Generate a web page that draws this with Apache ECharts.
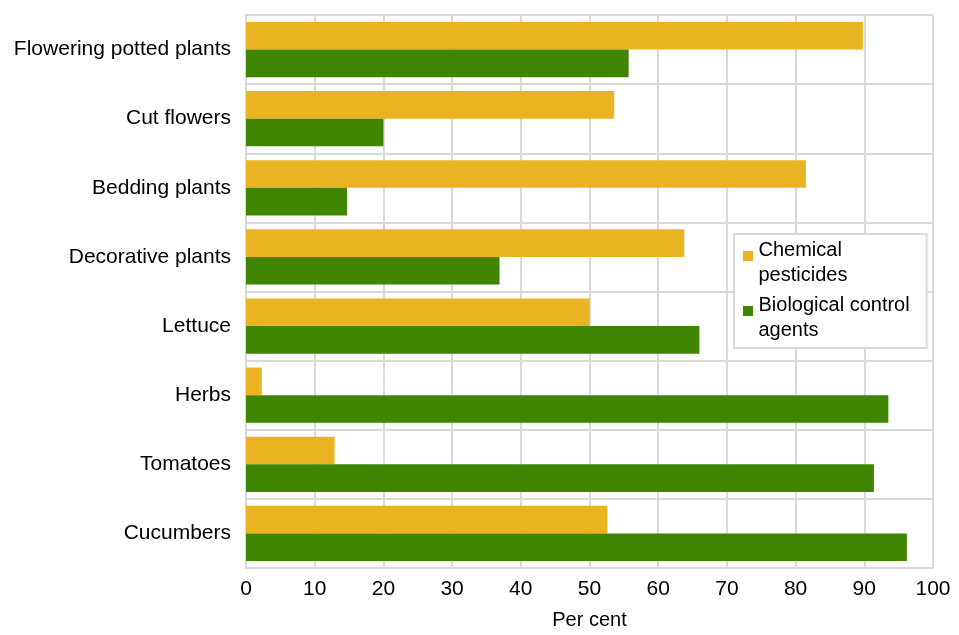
<!DOCTYPE html>
<html>
<head>
<meta charset="utf-8">
<script src="https://cdn.jsdelivr.net/npm/echarts@6/dist/echarts.min.js"></script>
<style>
  html, body { margin: 0; padding: 0; background: #fff; }
  #chart { width: 959px; height: 635px; }
</style>
</head>
<body>
<div id="chart"></div>
<script>
// categories, top to bottom
var crops = ['Flowering potted plants', 'Cut flowers', 'Bedding plants', 'Decorative plants',
  'Lettuce', 'Herbs', 'Tomatoes', 'Cucumbers'];
var chemical = [89.8, 53.6, 81.5, 63.8, 50, 2.3, 12.9, 52.6];
var biological = [55.7, 20, 14.7, 36.9, 66, 93.5, 91.4, 96.2];
var xTicks = [0, 10, 20, 30, 40, 50, 60, 70, 80, 90, 100];

var gridColor = '#d9d9d9';
var font = 'Liberation Sans, Arial, sans-serif';
var fs = 21;

var myChart = echarts.init(document.getElementById('chart'));

myChart.setOption({
  animation: false,
  textStyle: { fontFamily: font },
  grid: {
    left: 246, right: 26, top: 15, bottom: 64,
    show: true, borderColor: gridColor, borderWidth: 2
  },
  legend: {
    orient: 'vertical',
    left: 734, top: 234,
    padding: [4, 17, 5, 9],
    backgroundColor: '#fff',
    borderColor: gridColor,
    borderWidth: 2,
    itemWidth: 11, itemHeight: 24,
    itemGap: 5,
    // square sits on the first text line
    icon: 'path://M0,0h10v10h-10z M0,24h0.01v0.01h-0.01z',
    textStyle: { fontSize: 20, color: '#000', lineHeight: 25, fontFamily: font },
    formatter: function (n) {
      return n === 'Chemical pesticides' ? 'Chemical\npesticides' : 'Biological control\nagents';
    },
    data: ['Chemical pesticides', 'Biological control agents']
  },
  xAxis: {
    type: 'value',
    min: xTicks[0], max: xTicks[xTicks.length - 1], interval: 10,
    name: 'Per cent',
    nameLocation: 'middle',
    nameGap: 42,
    nameTextStyle: { fontSize: 20, color: '#000', fontFamily: font },
    axisLine: { show: true, lineStyle: { color: gridColor, width: 2 } },
    axisTick: { show: false },
    axisLabel: { fontSize: fs, color: '#000', margin: 11, fontFamily: font },
    splitLine: { show: true, lineStyle: { color: gridColor, width: 2 } }
  },
  yAxis: {
    type: 'category',
    inverse: true,
    data: crops,
    axisLine: { show: true, lineStyle: { color: gridColor, width: 2 } },
    axisTick: { show: false },
    axisLabel: { fontSize: fs, color: '#000', margin: 15, fontFamily: font },
    splitLine: { show: true, lineStyle: { color: gridColor, width: 2 } }
  },
  series: [
    {
      name: 'Chemical pesticides',
      type: 'bar',
      data: chemical,
      itemStyle: { color: '#eab322' },
      barGap: '0%',
      barCategoryGap: '20%'
    },
    {
      name: 'Biological control agents',
      type: 'bar',
      data: biological,
      itemStyle: { color: '#3f8500' },
      barGap: '0%',
      barCategoryGap: '20%'
    }
  ]
});
</script>
</body>
</html>
